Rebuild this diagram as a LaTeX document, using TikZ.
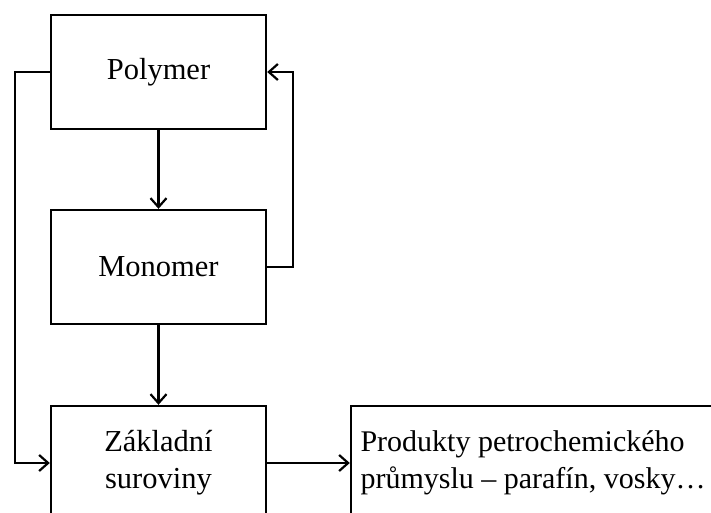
\documentclass[tikz,border=0pt]{standalone}
\usepackage{fontspec}
\setmainfont{Liberation Serif}
\usetikzlibrary{arrows.meta}
\begin{document}
\begin{tikzpicture}[x=1pt,y=-1pt,
  box/.style={draw,line width=2.4pt,minimum width=215pt,minimum height=114pt,
    align=center,font=\fontsize{30.5}{37}\selectfont,inner sep=0pt},
  link/.style={line width=2.2pt,-{Straight Barb[length=9pt,width=16pt,line width=2.2pt]}}]
\useasboundingbox (0,0) rectangle (711,513);
\clip (0,0) rectangle (711,513);
% boxes
\node[box] (pol) at (158.5,72) {Polymer};
\node[box] (mon) at (158.5,267) {Monomer};
\node[box] (zak) at (158.5,463) {Základní\\suroviny};
\node[box,minimum width=364pt,align=left,font=\fontsize{30}{37}\selectfont] (prod) at (533,463)
  {Produkty petrochemického\\průmyslu – parafín, vosky…};
% side rails of the loops
\coordinate (lft) at (15,0);
\coordinate (rgt) at (293,0);
% connectors
\draw[link] (pol.south) -- (mon.north);
\draw[link] (mon.south) -- (zak.north);
\draw[link] (pol.west) -- (pol.west -| lft) |- (zak.west);
\draw[link] (mon.east) -- (mon.east -| rgt) |- (pol.east);
\draw[link] (zak.east) -- (prod.west);
\end{tikzpicture}
\end{document}
